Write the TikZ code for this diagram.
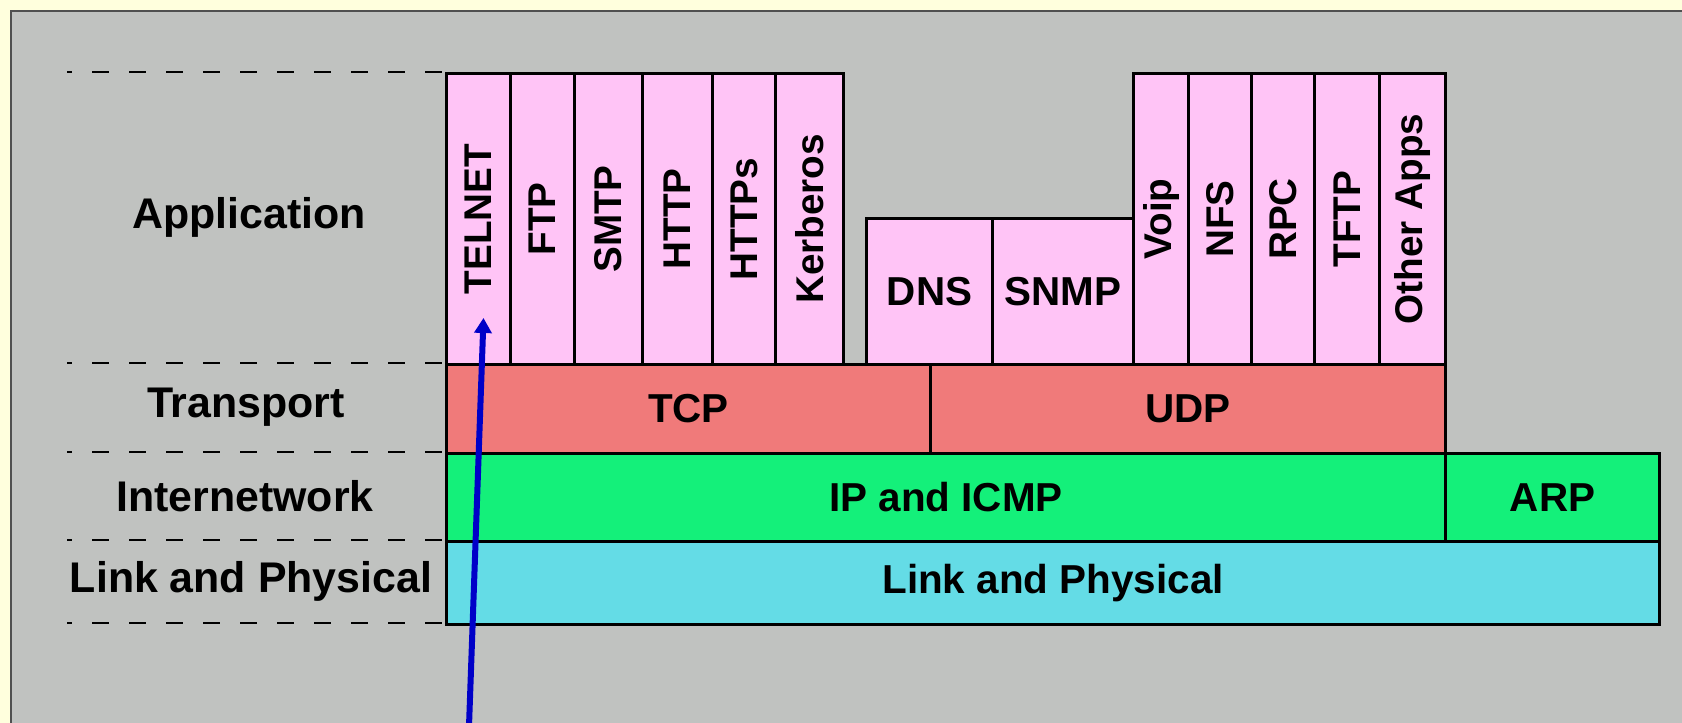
\documentclass[tikz,border=0pt]{standalone}
\usepackage{fontspec}
\setmainfont{Liberation Sans}
\usepackage{graphicx}
\usetikzlibrary{arrows.meta}

\definecolor{pagebg}{RGB}{255,255,221}
\definecolor{panelgray}{RGB}{192,194,192}
\definecolor{panelline}{RGB}{80,80,80}
\definecolor{apppink}{RGB}{255,196,246}
\definecolor{tcpred}{RGB}{240,122,122}
\definecolor{ipgreen}{RGB}{20,240,122}
\definecolor{linkcyan}{RGB}{100,220,230}
\definecolor{pointerblue}{RGB}{0,0,200}

\tikzset{
  cell/.style={draw, line width=0.3mm, inner sep=0pt, anchor=north west,
    font=\bfseries\fontsize{11.5}{13}\selectfont},
  appcell/.style={cell, fill=apppink, minimum height=29.1mm,
    font=\bfseries\fontsize{11}{13}\selectfont},
  layername/.style={font=\bfseries\fontsize{12.2}{14}\selectfont},
  layersep/.style={line width=0.2mm, dash pattern=on 1.7mm off 2mm, dash phase=1.2mm},
  pointer/.style={draw=pointerblue, line width=0.6mm,
    -{Triangle[length=1.5mm, width=1.7mm]}}
}

\begin{document}
\begin{tikzpicture}[x=1mm, y=-1mm]
\useasboundingbox (0,0) rectangle (168.2,72.3);
\fill[pagebg] (0,0) rectangle (168.2,72.3);
\draw[draw=panelline, fill=panelgray, line width=0.25mm] (1.1,1.1) rectangle (175,80);

% layer separators
\foreach \y in {7.2,36.3,45.2,54.0,62.3}
  \draw[layersep] (6.7,\y) -- (44.5,\y);

% layer names
\node[layername] (application) at (24.9,21.75) {Application};
\node[layername] (transport) at (24.6,40.75) {Transport};
\node[layername] (internetwork) at (24.5,49.6) {Internetwork};
\node[layername] (linkname) at (25.1,58.15) {Link and Physical};

% application protocols
\foreach \x/\w/\n/\t in {44.5/6.4/telnet/TELNET, 50.9/6.4/ftp/FTP,
    57.3/6.8/smtp/SMTP, 64.1/7.0/http/HTTP, 71.1/6.3/https/HTTPs,
    77.4/6.8/kerberos/Kerberos, 113.2/5.5/voip/Voip, 118.7/6.3/nfs/NFS,
    125.0/6.3/rpc/RPC, 131.3/6.5/tftp/TFTP, 137.8/6.6/otherapps/Other Apps}
  \node[appcell, minimum width=\w mm] (\n) at (\x,7.2) {\rotatebox{90}{\t}};

\node[cell, fill=apppink, minimum width=12.6mm, minimum height=14.6mm] (dns) at (86.5,21.7) {DNS};
\node[cell, fill=apppink, minimum width=14.1mm, minimum height=14.6mm] (snmp) at (99.1,21.7) {SNMP};

% transport
\node[cell, fill=tcpred, minimum width=48.4mm, minimum height=8.9mm] (tcp) at (44.5,36.3) {TCP};
\node[cell, fill=tcpred, minimum width=51.5mm, minimum height=8.9mm] (udp) at (92.9,36.3) {UDP};

% internetwork
\node[cell, fill=ipgreen, minimum width=99.9mm, minimum height=8.8mm] (ip) at (44.5,45.2) {IP and ICMP};
\node[cell, fill=ipgreen, minimum width=21.4mm, minimum height=8.8mm] (arp) at (144.4,45.2) {ARP};

% link
\node[cell, fill=linkcyan, minimum width=121.3mm, minimum height=8.3mm] (link) at (44.5,54.0) {Link and Physical};

\coordinate (foot) at (46.85,74);
\draw[pointer] (foot) -- ([xshift=0.5mm,yshift=4.8mm]telnet.south);
\end{tikzpicture}
\end{document}
